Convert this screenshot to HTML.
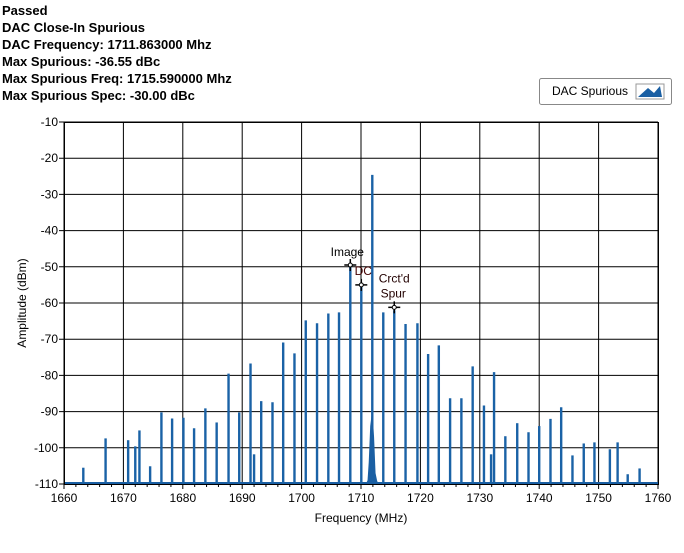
<!DOCTYPE html>
<html><head><meta charset="utf-8"><style>
body{margin:0;background:#fff;width:684px;height:553px;overflow:hidden;font-family:"Liberation Sans",sans-serif}
svg{position:absolute;left:0;top:0}
</style></head><body>
<svg id="chart" width="684" height="553">
<g font-size="13" font-weight="bold" fill="#000">
<text x="2" y="15">Passed</text>
<text x="2" y="32">DAC Close-In Spurious</text>
<text x="2" y="49">DAC Frequency: 1711.863000 Mhz</text>
<text x="2" y="66">Max Spurious: -36.55 dBc</text>
<text x="2" y="83">Max Spurious Freq: 1715.590000 Mhz</text>
<text x="2" y="100">Max Spurious Spec: -30.00 dBc</text>
</g>
<g>
<rect x="539.5" y="78.5" width="132" height="26" rx="2" fill="#fff" stroke="#888"/>
<text x="552" y="95" font-size="12">DAC Spurious</text>
<rect x="636" y="84" width="28" height="15" fill="#fff" stroke="#999"/>
<polygon points="638,97 648,88 654,93 660,86 662,97" fill="#1a5fa3"/>
</g>
<g id="grid"></g>
<g id="series"></g>
<g id="axes"></g>
<g id="markers"></g>
<text x="361" y="522" font-size="12" text-anchor="middle">Frequency (MHz)</text>
<text transform="translate(26,303) rotate(-90)" font-size="12" text-anchor="middle">Amplitude (dBm)</text>
</svg>
<script>
const freqs=[1663.25,1667.0,1670.8,1672.0,1672.7,1674.5,1676.4,1678.2,1680.1,1681.9,1683.8,1685.7,1687.7,1689.5,1691.4,1692.0,1693.2,1695.1,1696.9,1698.8,1700.7,1702.6,1704.5,1706.3,1708.2,1710.05,1711.9,1713.75,1715.6,1717.5,1719.5,1721.3,1723.1,1725.0,1726.9,1728.8,1730.7,1731.9,1732.4,1734.3,1736.3,1738.2,1740.0,1741.9,1743.7,1745.6,1747.5,1749.3,1751.9,1753.2,1754.9,1756.9];
const amps=[-105.5,-97.4,-97.9,-99.6,-95.2,-105.1,-90.2,-91.9,-91.7,-94.6,-89.1,-93,-79.5,-90.2,-76.7,-101.8,-87.1,-87.4,-70.9,-73.9,-64.8,-65.6,-62.9,-62.6,-49.5,-55.0,-24.6,-62.6,-62.0,-65.8,-65.6,-74.1,-71.7,-86.3,-86.3,-77.5,-88.3,-101.8,-79.1,-96.8,-93.2,-95.7,-94,-92,-88.8,-102.1,-98.8,-98.5,-100.4,-98.5,-107.3,-105.7];
const humpF=[1710.8,1711.1,1711.3,1711.55,1711.9,1712.2,1712.45,1712.7,1712.9];
const humpA=[-110,-109,-104,-94,-89.3,-97,-107,-109,-110];
const xTicks=[1660,1670,1680,1690,1700,1710,1720,1730,1740,1750,1760];
const yTicks=[-10,-20,-30,-40,-50,-60,-70,-80,-90,-100,-110];
const markerNames=["Image","DC","Crct'd Spur"];
const markerF=[1708.2,1710.05,1715.6];
const markerA=[-49.5,-55.0,-61.2];
const X0=64,X1=658,Y0=122,Y1=484;
const xs=f=>X0+(f-1660)/100*(X1-X0);
const ys=a=>Y0+(-10-a)/100*(Y1-Y0);
const NS="http://www.w3.org/2000/svg";
function mk(tag,attrs,parent){const e=document.createElementNS(NS,tag);for(const k in attrs)e.setAttribute(k,attrs[k]);parent.appendChild(e);return e;}
const grid=document.getElementById('grid'),axes=document.getElementById('axes'),ser=document.getElementById('series'),mkG=document.getElementById('markers');
mk('rect',{x:X0,y:Y0,width:X1-X0,height:Y1-Y0,fill:'#fff'},grid);
xTicks.forEach(t=>{
 const l=mk('line',{x1:xs(t),x2:xs(t),y1:Y0,y2:Y1+5,stroke:'#000','stroke-width':1},grid);
 
 
 const tx=mk('text',{x:xs(t),y:Y1+18,'font-size':12,'text-anchor':'middle'},axes);tx.textContent=t;
 
 
});
yTicks.forEach(t=>{
 const l=mk('line',{x1:X0-5,x2:X1,y1:ys(t),y2:ys(t),stroke:'#000','stroke-width':1},grid);
 
 
 const tx=mk('text',{x:X0-6,y:ys(t)+4,'font-size':12,'text-anchor':'end'},axes);tx.textContent=t;
 
 
});
for(let i=1;i<50;i++){if(i%5===0)continue;const f=1660+i*2;
 const m=mk('line',{x1:xs(f),x2:xs(f),y1:Y1,y2:Y1+3,stroke:'#000'},axes);
 
 }
const frame=mk('rect',{x:X0+.5,y:Y0+.5,width:X1-X0,height:Y1-Y0,fill:'none',stroke:'#000'},axes);


const base=mk('line',{x1:X0,x2:X1,y1:Y1-1,y2:Y1-1,stroke:'#1a5fa3','stroke-width':2},ser);


freqs.forEach((f,i)=>{
 const l=mk('line',{x1:xs(f),x2:xs(f),y1:Y1,y2:ys(amps[i]),stroke:'#1a62a6','stroke-width':2.4},ser);
 
 
});
const hp=mk('polygon',{points:humpF.map((f,i)=>xs(f)+','+ys(humpA[i])).join(' '),fill:'#1a5fa3'},ser);


const labelOff=[[-3,-9],[2,-10],[0,-25]];
markerF.forEach((f,i)=>{
 const x=xs(f),y=ys(markerA[i]);
 const g=mk('g',{},mkG);
 
 
 mk('line',{x1:x-6,x2:x+6,y1:y,y2:y,stroke:'#000','stroke-width':1.5},g);
 mk('line',{x1:x,x2:x,y1:y-6,y2:y+6,stroke:'#000','stroke-width':1.5},g);
 mk('circle',{cx:x,cy:y,r:2,fill:'#fff',stroke:'#000'},g);
 if(i===2){
  const a=mk('text',{x:x,y:y+labelOff[i][1],'font-size':12,'text-anchor':'middle',fill:'#200'},g);a.textContent="Crct'd";
  const b=mk('text',{x:x-1,y:y-10,'font-size':12,'text-anchor':'middle',fill:'#200'},g);b.textContent="Spur";
 }else{
  const t=mk('text',{x:x+labelOff[i][0],y:y+labelOff[i][1],'font-size':12,'text-anchor':'middle',fill:i===1?'#400':'#000'},g);t.textContent=markerNames[i];
 }
});
</script>
</body></html>
